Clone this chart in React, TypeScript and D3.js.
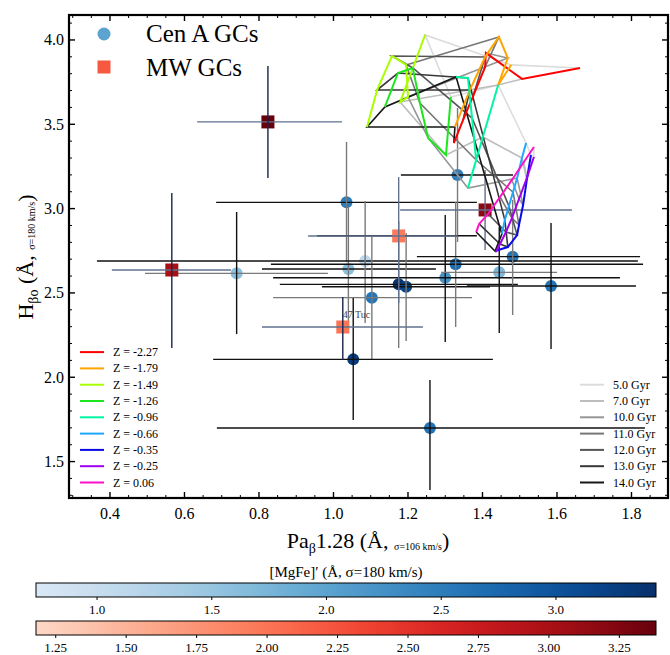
import * as d3 from 'd3'

// model grid: one row per metallicity, one column per age
const zLabels = ['-2.27', '-1.79', '-1.49', '-1.26', '-0.96', '-0.66', '-0.35', '-0.25', '0.06']
const ageLabels = ['5.0', '7.0', '10.0', '11.0', '12.0', '13.0', '14.0']

const modelPaB = [
  [1.662, 1.506, 1.409, 1.407, 1.374, 1.348, 1.323],
  [1.477, 1.442, 1.468, 1.444, 1.407, 1.366, 1.326],
  [1.246, 1.179, 1.2, 1.195, 1.157, 1.117, 1.09],
  [1.315, 1.302, 1.254, 1.232, 1.213, 1.173, 1.138],
  [1.442, 1.401, 1.361, 1.383, 1.372, 1.361, 1.329],
  [1.517, 1.506, 1.493, 1.482, 1.471, 1.46, 1.452],
  [1.53, 1.519, 1.509, 1.498, 1.493, 1.468, 1.434],
  [1.538, 1.519, 1.498, 1.479, 1.463, 1.447, 1.436],
  [1.538, 1.511, 1.479, 1.447, 1.415, 1.391, 1.383],
]
const modelHb = [
  [3.834, 3.769, 3.923, 3.84, 3.662, 3.526, 3.389],
  [3.852, 3.733, 3.893, 4.018, 3.899, 3.703, 3.484],
  [4.03, 3.632, 3.662, 3.852, 3.905, 3.703, 3.484],
  [3.662, 3.318, 3.419, 3.626, 3.834, 3.804, 3.603],
  [3.733, 3.425, 3.122, 3.288, 3.537, 3.775, 3.781],
  [3.389, 3.3, 3.181, 3.098, 3.015, 2.932, 2.849],
  [3.318, 3.17, 3.021, 2.903, 2.843, 2.772, 2.749],
  [3.306, 3.181, 3.057, 2.944, 2.861, 2.79, 2.743],
  [3.365, 3.276, 3.17, 3.069, 2.968, 2.909, 2.861],
]

// Cen A globular clusters
const cenAPaB = [1.035, 1.333, 1.04, 1.085, 1.103, 1.175, 1.195, 1.328, 1.3, 1.445, 1.481, 1.584, 1.053, 0.74, 1.259, 1.175]
const cenAPaBLo = [0.685, 1.181, 0.808, 0.365, 0.838, 0.856, 0.969, 0.832, 0.838, 1.289, 1.224, 1.358, 0.677, 0.494, 0.687, 0.956]
const cenAPaBHi = [1.385, 1.482, 1.275, 1.817, 1.372, 1.495, 1.42, 1.831, 1.769, 1.6, 1.823, 1.812, 1.428, 0.985, 1.836, 1.385]
const cenAHb = [3.037, 3.199, 2.642, 2.689, 2.472, 2.551, 2.537, 2.67, 2.59, 2.622, 2.715, 2.541, 2.106, 2.616, 1.699, 2.839]
const cenAHbLo = [2.683, 2.802, 2.286, 2.321, 2.108, 2.173, 2.215, 2.298, 2.209, 2.262, 2.369, 2.167, 1.746, 2.256, 1.331, 2.839]
const cenAHbHi = [3.395, 3.597, 3.009, 3.045, 2.832, 2.926, 2.855, 3.039, 2.962, 2.891, 3.051, 2.915, 2.47, 2.98, 1.983, 2.839]
const cenAMgFe = [2.5, 2.5, 1.6, 1.1, 2.6, 3.4, 3.2, 2.7, 2.2, 1.7, 2.6, 2.6, 3.3, 1.6, 2.6, 2.4]
const cenAXTone = ['k', 'k', 'k', 'k', 'g', 'k', 'k', 'k', 'k', 'g', 'k', 'k', 'k', 'g', 'k', 'k']
const cenAYTone = ['g', 'g', 'g', 'g', 'g', 'g', 'g', 'g', 'k', 'k', 'g', 'k', 'k', 'k', 'k', 'g']

// Milky Way globular clusters
const mwNames = ['', '', '47 Tuc', '', '']
const mwPaB = [0.824, 0.566, 1.025, 1.175, 1.407]
const mwPaBLo = [0.634, 0.405, 0.808, 0.932, 1.179]
const mwPaBHi = [1.023, 0.725, 1.24, 1.334, 1.64]
const mwHb = [3.514, 2.636, 2.298, 2.838, 2.992]
const mwHbLo = [3.181, 2.173, 2.102, 2.44, 2.754]
const mwHbHi = [3.846, 3.093, 2.476, 3.187, 3.229]
const mwMgFe = [3.38, 3.0, 2.0, 1.95, 3.2]
const mwYTone = ['n', 'n', 'n', 's', 's']

const xTicks = [0.4, 0.6, 0.8, 1.0, 1.2, 1.4, 1.6, 1.8]
const yTicks = [1.5, 2.0, 2.5, 3.0, 3.5, 4.0]
const blueTicks = [1.0, 1.5, 2.0, 2.5, 3.0]
const redTicks = [1.25, 1.5, 1.75, 2.0, 2.25, 2.5, 2.75, 3.0, 3.25]

const zColors = ['#ff0000', '#ffa500', '#a8ff00', '#1ee61e', '#00f5a5', '#1ea8ff', '#0a0ae6', '#a000f0', '#ff10c8']
const ageColors = ['#dcdcdc', '#bdbdbd', '#969696', '#767676', '#555555', '#383838', '#161616']
const tone: Record<string, string> = { k: '#111', g: '#7a7a7a', s: '#61708e', n: '#18254b' }

const FONT = '"Liberation Serif", "DejaVu Serif", serif'

export default function App() {
  const x = d3.scaleLinear().domain([0.29, 1.898]).range([69, 668])
  const y = d3.scaleLinear().domain([1.284, 4.148]).range([498, 15])

  const blueDom = [0.734, 3.436]
  const redDom = [1.18, 3.38]
  const blueC = (v: number) => d3.interpolateBlues(0.15 + (0.85 * (v - blueDom[0])) / (blueDom[1] - blueDom[0]))
  const redC = (v: number) => d3.interpolateReds(0.15 + (0.85 * (v - redDom[0])) / (redDom[1] - redDom[0]))
  const cbX = d3.scaleLinear().domain(blueDom).range([36, 656])
  const cbXr = d3.scaleLinear().domain(redDom).range([36, 656])

  const line = d3
    .line<[number, number]>()
    .x((d) => x(d[0]))
    .y((d) => y(d[1]))

  const xMinor = d3.range(0.3, 1.9, 0.05).filter((v) => !xTicks.some((t) => Math.abs(t - v) < 1e-6))
  const yMinor = d3.range(1.3, 4.148, 0.1).filter((v) => !yTicks.some((t) => Math.abs(t - v) < 1e-6))

  const stops = d3.range(0, 1.0001, 0.05)
  const rowY = (i: number, n: number) => 482.5 - 16.3 * (n - 1 - i)

  return (
    <svg width={670} height={655} style={{ position: 'absolute', left: 0, top: 0, background: '#fff' }} fontFamily={FONT}>
      <defs>
        <linearGradient id="gBlue" x1="0" x2="1" y1="0" y2="0">
          {stops.map((s) => (
            <stop key={s} offset={s} stopColor={d3.interpolateBlues(0.15 + 0.85 * s)} />
          ))}
        </linearGradient>
        <linearGradient id="gRed" x1="0" x2="1" y1="0" y2="0">
          {stops.map((s) => (
            <stop key={s} offset={s} stopColor={d3.interpolateReds(0.15 + 0.85 * s)} />
          ))}
        </linearGradient>
        <clipPath id="plotClip">
          <rect x={69} y={15} width={599} height={483} />
        </clipPath>
      </defs>

      <g clipPath="url(#plotClip)">
        {/* Cen A markers */}
        {cenAPaB.map((v, i) => (
          <circle key={'ca' + i} cx={x(v)} cy={y(cenAHb[i])} r={6} fill={blueC(cenAMgFe[i])} />
        ))}
        {/* Cen A error bars */}
        {cenAPaB.map((v, i) => (
          <g key={'cae' + i} strokeWidth={1.4}>
            <line x1={x(cenAPaBLo[i])} x2={x(cenAPaBHi[i])} y1={y(cenAHb[i])} y2={y(cenAHb[i])} stroke={tone[cenAXTone[i]]} />
            <line x1={x(v)} x2={x(v)} y1={y(cenAHbLo[i])} y2={y(cenAHbHi[i])} stroke={tone[cenAYTone[i]]} />
          </g>
        ))}
        {/* MW markers */}
        {mwPaB.map((v, i) => (
          <rect key={'mw' + i} x={x(v) - 6.5} y={y(mwHb[i]) - 6.5} width={13} height={13} fill={redC(mwMgFe[i])} />
        ))}
        {mwPaB.map((v, i) => (
          <g key={'mwe' + i} strokeWidth={1.4}>
            <line x1={x(mwPaBLo[i])} x2={x(mwPaBHi[i])} y1={y(mwHb[i])} y2={y(mwHb[i])} stroke={tone.s} />
            <line x1={x(v)} x2={x(v)} y1={y(mwHbLo[i])} y2={y(mwHbHi[i])} stroke={tone[mwYTone[i]]} />
          </g>
        ))}
        {mwNames.map((n, i) =>
          n ? (
            <text key={'lab' + i} x={x(mwPaB[i])} y={y(mwHb[i]) - 9} fontSize={10} fill="#444">
              {n}
            </text>
          ) : null,
        )}

        {/* model grid: constant age lines, then constant Z lines */}
        {ageLabels.map((a, j) => (
          <path
            key={'age' + a}
            d={line(modelPaB.map((row, i) => [row[j], modelHb[i][j]] as [number, number])) ?? ''}
            fill="none"
            stroke={ageColors[j]}
            strokeWidth={1.6}
          />
        ))}
        {zLabels.map((z, i) => (
          <path
            key={'z' + z}
            d={line(modelPaB[i].map((v, j) => [v, modelHb[i][j]] as [number, number])) ?? ''}
            fill="none"
            stroke={zColors[i]}
            strokeWidth={2}
          />
        ))}
      </g>

      {/* top-left legend */}
      <circle cx={104} cy={34} r={6.5} fill={blueC(2.0)} />
      <text x={146} y={42} fontSize={25}>Cen A GCs</text>
      <rect x={97.5} y={60.5} width={13} height={13} fill={redC(2.2)} />
      <text x={146} y={76} fontSize={25}>MW GCs</text>

      {/* metallicity legend */}
      {zLabels.map((z, i) => (
        <g key={'lz' + z}>
          <line x1={80} x2={104} y1={rowY(i, zLabels.length)} y2={rowY(i, zLabels.length)} stroke={zColors[i]} strokeWidth={2} />
          <text x={113} y={rowY(i, zLabels.length) + 4} fontSize={12}>
            Z = {z}
          </text>
        </g>
      ))}
      {/* age legend */}
      {ageLabels.map((a, j) => (
        <g key={'la' + a}>
          <line x1={580} x2={604} y1={rowY(j, ageLabels.length)} y2={rowY(j, ageLabels.length)} stroke={ageColors[j]} strokeWidth={2} />
          <text x={613} y={rowY(j, ageLabels.length) + 4} fontSize={12}>
            {a} Gyr
          </text>
        </g>
      ))}

      {/* frame and ticks */}
      <rect x={69} y={15} width={599} height={483} fill="none" stroke="#000" strokeWidth={2.2} />
      <g stroke="#000" strokeWidth={1}>
        {xTicks.map((t) => (
          <g key={'xt' + t}>
            <line x1={x(t)} x2={x(t)} y1={498} y2={492} strokeWidth={1.4} />
            <line x1={x(t)} x2={x(t)} y1={15} y2={21} strokeWidth={1.4} />
          </g>
        ))}
        {xMinor.map((t) => (
          <g key={'xm' + t}>
            <line x1={x(t)} x2={x(t)} y1={498} y2={495} />
            <line x1={x(t)} x2={x(t)} y1={15} y2={18} />
          </g>
        ))}
        {yTicks.map((t) => (
          <g key={'yt' + t}>
            <line x1={69} x2={75} y1={y(t)} y2={y(t)} strokeWidth={1.4} />
            <line x1={668} x2={662} y1={y(t)} y2={y(t)} strokeWidth={1.4} />
          </g>
        ))}
        {yMinor.map((t) => (
          <g key={'ym' + t}>
            <line x1={69} x2={72} y1={y(t)} y2={y(t)} />
            <line x1={668} x2={665} y1={y(t)} y2={y(t)} />
          </g>
        ))}
      </g>
      {xTicks.map((t) => (
        <text key={'xl' + t} x={x(t)} y={519} fontSize={16} textAnchor="middle">
          {t.toFixed(1)}
        </text>
      ))}
      {yTicks.map((t) => (
        <text key={'yl' + t} x={64} y={y(t) + 5.5} fontSize={16} textAnchor="end">
          {t.toFixed(1)}
        </text>
      ))}

      {/* axis titles */}
      <text x={368} y={548} fontSize={22} textAnchor="middle">
        Pa<tspan fontSize={14} dy={5}>β</tspan>
        <tspan dy={-5}>1.28 (Å, </tspan>
        <tspan fontSize={10} dy={2}>σ=106 km/s</tspan>
        <tspan dy={-2}>)</tspan>
      </text>
      <text transform="translate(33,257) rotate(-90)" fontSize={22} textAnchor="middle">
        H<tspan fontSize={14} dy={5}>βo</tspan>
        <tspan dy={-5}> (Å, </tspan>
        <tspan fontSize={10} dy={2}>σ=180 km/s</tspan>
        <tspan dy={-2}>)</tspan>
      </text>

      {/* colorbars */}
      <text x={346} y={577} fontSize={15} textAnchor="middle">
        [MgFe]′ (Å, σ=180 km/s)
      </text>
      <rect x={36} y={583} width={620} height={14} fill="url(#gBlue)" stroke="#000" strokeWidth={1} />
      {blueTicks.map((t) => (
        <g key={'bt' + t}>
          <line x1={cbX(t)} x2={cbX(t)} y1={597} y2={600} stroke="#000" />
          <text x={cbX(t)} y={614} fontSize={13} textAnchor="middle">
            {t.toFixed(1)}
          </text>
        </g>
      ))}
      <rect x={36} y={621} width={620} height={14} fill="url(#gRed)" stroke="#000" strokeWidth={1} />
      {redTicks.map((t) => (
        <g key={'rt' + t}>
          <line x1={cbXr(t)} x2={cbXr(t)} y1={635} y2={638} stroke="#000" />
          <text x={cbXr(t)} y={652} fontSize={13} textAnchor="middle">
            {t.toFixed(2)}
          </text>
        </g>
      ))}
    </svg>
  )
}
